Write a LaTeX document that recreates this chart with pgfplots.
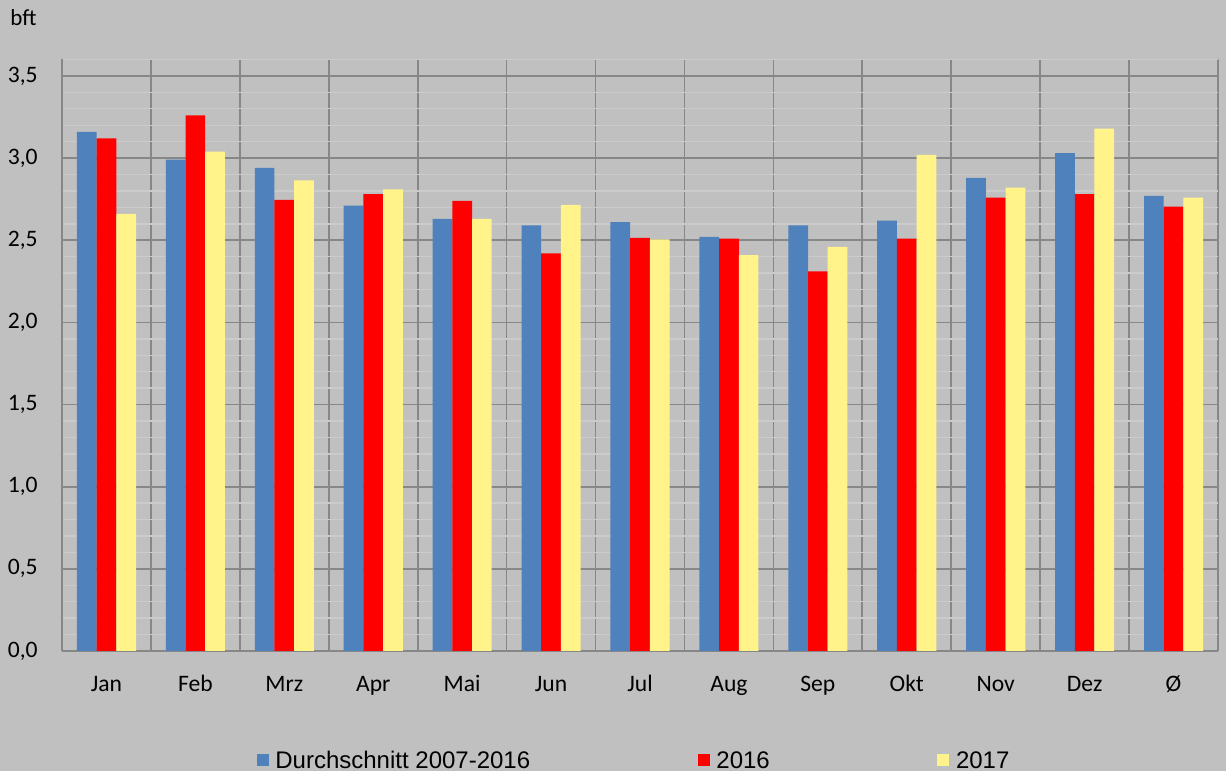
\documentclass[border=0pt]{standalone}
\usepackage{fontspec}
\setmainfont{Carlito}
\newfontfamily\legfont{Liberation Sans}
\usepackage{pgfplots}
\pgfplotsset{compat=1.18}

\definecolor{bgc}{HTML}{C0C0C0}
\definecolor{majgrid}{HTML}{878787}
\definecolor{mingrid}{HTML}{CBCBCB}
\definecolor{cblue}{HTML}{4F81BD}
\definecolor{cred}{HTML}{FF0000}
\definecolor{cyel}{HTML}{FFF38A}

\begin{document}
\begin{tikzpicture}
\useasboundingbox (0,0) rectangle (613pt,385.5pt);
\fill[bgc] (0,0) rectangle (613pt,385.5pt);
\node[anchor=base west, inner sep=0pt, font=\fontsize{11.5}{13}\selectfont] at (5pt,372.5pt) {bft};
\begin{axis}[
    at={(31pt,60pt)}, anchor=south west,
    scale only axis,
    width=578pt, height=295.75pt,
    ybar=0pt, bar width=9.85pt,
    xmin=-0.5, xmax=12.5,
    ymin=0, ymax=3.6,
    xtick={0,...,12},
    xticklabels={Jan,Feb,Mrz,Apr,Mai,Jun,Jul,Aug,Sep,Okt,Nov,Dez,Ø},
    minor xtick={-0.5,0.5,...,12.5},
    ytick={0,0.5,...,3.5},
    minor ytick={0.1,0.2,0.3,0.4,0.6,0.7,0.8,0.9,1.1,1.2,1.3,1.4,1.6,1.7,1.8,1.9,2.1,2.2,2.3,2.4,2.6,2.7,2.8,2.9,3.1,3.2,3.3,3.4,3.6},
    xminorgrids, ymajorgrids, yminorgrids,
    minor x grid style={majgrid, line width=0.85pt},
    major y grid style={majgrid, line width=0.85pt},
    minor y grid style={mingrid, line width=0.7pt},
    axis lines*=left,
    axis line style={majgrid, line width=0.85pt},
    tick style={draw=none},
    tick label style={font=\fontsize{11.8}{13}\selectfont},
    /pgf/number format/.cd, use comma, fixed, fixed zerofill, precision=1, assume math mode=true,
    /pgfplots/.cd,
    yticklabel style={anchor=east, inner sep=0pt, xshift=-12pt},
    xticklabel style={anchor=base, inner sep=0pt, yshift=-16pt},
    legend image code/.code={\fill[#1,draw=none] (0pt,-2.6pt) rectangle (6pt,3.8pt);},
    legend columns=3,
    legend style={at={(0.1685,-0.2035)}, anchor=south west, draw=none, fill=none,
        inner sep=0pt, outer sep=0pt, font=\legfont\fontsize{12}{14}\selectfont,
        nodes={inner sep=0pt}, column sep=3.3pt,
        /tikz/every even column/.append style={column sep=83.8pt}},
]
\addplot[fill=cblue, draw=none] coordinates {(0,3.16) (1,2.99) (2,2.94) (3,2.71) (4,2.63) (5,2.59) (6,2.61) (7,2.52) (8,2.59) (9,2.62) (10,2.88) (11,3.03) (12,2.77)};
\addlegendentry{Durchschnitt 2007-2016}
\addplot[fill=cred, draw=none] coordinates {(0,3.12) (1,3.26) (2,2.745) (3,2.78) (4,2.74) (5,2.42) (6,2.515) (7,2.51) (8,2.31) (9,2.51) (10,2.76) (11,2.78) (12,2.705)};
\addlegendentry{2016}
\addplot[fill=cyel, draw=none] coordinates {(0,2.66) (1,3.04) (2,2.865) (3,2.81) (4,2.63) (5,2.715) (6,2.505) (7,2.41) (8,2.46) (9,3.02) (10,2.82) (11,3.18) (12,2.76)};
\addlegendentry{2017}
\end{axis}
\end{tikzpicture}
\end{document}
